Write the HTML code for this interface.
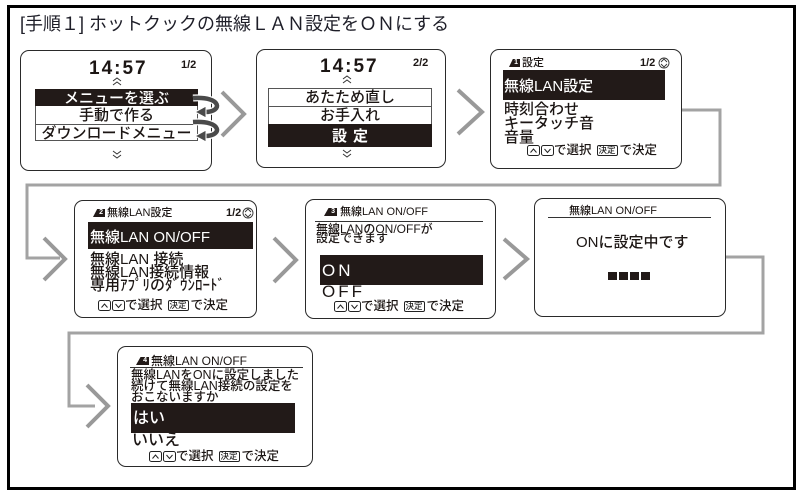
<!DOCTYPE html>
<html><head><meta charset="utf-8">
<style>
*{margin:0;padding:0;box-sizing:border-box}
body{width:807px;height:499px;background:#fff;position:relative;overflow:hidden;font-family:"Liberation Sans","Noto Sans CJK JP",sans-serif;color:#1c1614}
.a{position:absolute;white-space:nowrap;line-height:1}
.j{font-family:"Liberation Sans Narrow","Liberation Sans","Noto Sans CJK JP",sans-serif;font-weight:500}
.s{position:absolute;border:1.5px solid #2a2a2a;border-radius:9px;background:#fff}
.blk{position:absolute;background:#221a18}
.w{color:#fff}
.row{position:absolute;text-align:center;white-space:nowrap;font-size:15px;font-weight:500}
.ic{position:absolute;background:#221a18;clip-path:polygon(35% 0,100% 0,100% 100%,0 100%);color:#fff;font:bold 7px/8px "Liberation Sans",sans-serif;text-align:right;padding-right:2px}
.ft{position:absolute;white-space:nowrap;font-size:12.5px;line-height:12px;display:flex;align-items:center;font-weight:500}
.ft svg{display:block}
.kb{display:inline-block;border:1px solid #222;border-radius:2px;font-size:8.5px;line-height:9px;padding:0 1px;margin:0 2px 0 5px;color:#222}
.tm{position:absolute;font:bold 19px/1 "Liberation Sans",sans-serif;letter-spacing:2px;white-space:nowrap}
</style></head><body>

<div class="a" style="left:7px;top:5px;width:789px;height:485px;border:3px solid #000"></div>

<div class="a" style="left:20px;top:15px;font-size:18px;color:#1e1e28">[手順１] ホットクックの無線ＬＡＮ設定をＯＮにする</div>

<!-- Screen 1 -->
<div class="s" style="left:20px;top:50px;width:192px;height:121px"></div>
<div class="tm" style="left:89px;top:59px">14:57</div>
<div class="a" style="left:181px;top:60px;font:bold 11px/1 'Liberation Sans Narrow','Liberation Sans',sans-serif">1/2</div>
<div class="a" style="left:35px;top:89px;width:163px;height:52px;border:1px solid #555"></div>
<div class="blk" style="left:35px;top:89px;width:163px;height:17px"></div>
<div class="a" style="left:35px;top:124px;width:163px;height:1px;background:#555"></div>
<div class="row w" style="left:35px;top:90px;width:163px;height:17px;line-height:17px">メニューを選ぶ</div>
<div class="row" style="left:35px;top:107px;width:163px;height:18px;line-height:18px">手動で作る</div>
<div class="row" style="left:35px;top:125px;width:163px;height:17px;line-height:17px">ダウンロードメニュー</div>

<!-- Screen 2 -->
<div class="s" style="left:256px;top:49px;width:190px;height:119px"></div>
<div class="tm" style="left:320px;top:57px">14:57</div>
<div class="a" style="left:413px;top:58px;font:bold 11px/1 'Liberation Sans Narrow','Liberation Sans',sans-serif">2/2</div>
<div class="a" style="left:268px;top:88px;width:164px;height:59px;border:1px solid #555"></div>
<div class="a" style="left:268px;top:106px;width:164px;height:1px;background:#555"></div>
<div class="blk" style="left:268px;top:124px;width:164px;height:23px"></div>
<div class="row" style="left:268px;top:89px;width:164px;height:18px;line-height:18px">あたため直し</div>
<div class="row" style="left:268px;top:107px;width:164px;height:18px;line-height:18px">お手入れ</div>
<div class="row w" style="left:268px;top:125px;width:164px;height:23px;line-height:23px;letter-spacing:6px;font-weight:bold;text-indent:6px">設定</div>

<!-- Screen 3 -->
<div class="s" style="left:490px;top:49px;width:192px;height:120px"></div>
<div class="ic" style="left:509px;top:59px;width:11px;height:8px">1</div>
<div class="a j" style="left:522px;top:58px;font-size:11px">設定</div>
<div class="a" style="left:640px;top:58px;font:bold 11px/1 'Liberation Sans Narrow','Liberation Sans',sans-serif">1/2</div>
<div class="blk" style="left:503px;top:70px;width:162px;height:30px"></div>
<div class="a j w" style="left:504px;top:79px;font-size:15px">無線LAN設定</div>
<div class="a j" style="left:504px;top:102px;font-size:15px">時刻合わせ</div>
<div class="a j" style="left:504px;top:116px;font-size:15px">キータッチ音</div>
<div class="a j" style="left:504px;top:130px;font-size:15px">音量</div>
<div class="ft" style="left:527px;top:144px"><svg width="27" height="11"><rect x=".5" y=".5" width="12" height="10" rx="2" fill="none" stroke="#222"/><polyline points="3.5,7.5 6.5,4 9.5,7.5" fill="none" stroke="#222"/><rect x="14.5" y=".5" width="12" height="10" rx="2" fill="none" stroke="#222"/><polyline points="17.5,4 20.5,7.5 23.5,4" fill="none" stroke="#222"/></svg>で選択<span class="kb">決定</span>で決定</div>

<!-- Screen 4 -->
<div class="s" style="left:74px;top:200px;width:183px;height:118px"></div>
<div class="ic" style="left:93px;top:209px;width:12px;height:8px">2</div>
<div class="a j" style="left:107px;top:208px;font-size:11px">無線LAN設定</div>
<div class="a" style="left:226px;top:208px;font:bold 11px/1 'Liberation Sans Narrow','Liberation Sans',sans-serif">1/2</div>
<div class="blk" style="left:88px;top:222px;width:165px;height:27px"></div>
<div class="a j w" style="left:90px;top:230px;font-size:15px">無線LAN ON/OFF</div>
<div class="a j" style="left:90px;top:252px;font-size:15px">無線LAN 接続</div>
<div class="a j" style="left:90px;top:265px;font-size:15px">無線LAN接続情報</div>
<div class="a j" style="left:90px;top:278px;font-size:15px">専用ｱﾌﾟﾘのﾀﾞｳﾝﾛｰﾄﾞ</div>
<div class="ft" style="left:98px;top:299px"><svg width="27" height="11"><rect x=".5" y=".5" width="12" height="10" rx="2" fill="none" stroke="#222"/><polyline points="3.5,7.5 6.5,4 9.5,7.5" fill="none" stroke="#222"/><rect x="14.5" y=".5" width="12" height="10" rx="2" fill="none" stroke="#222"/><polyline points="17.5,4 20.5,7.5 23.5,4" fill="none" stroke="#222"/></svg>で選択<span class="kb">決定</span>で決定</div>

<!-- Screen 5 -->
<div class="s" style="left:305px;top:199px;width:191px;height:120px"></div>
<div class="ic" style="left:324px;top:208px;width:13px;height:8px">3</div>
<div class="a j" style="left:340px;top:207px;font-size:11px">無線LAN ON/OFF</div>
<div class="a" style="left:315px;top:221px;width:168px;height:1px;background:#333"></div>
<div class="a j" style="left:316px;top:223px;font-size:12px">無線LANのON/OFFが</div>
<div class="a j" style="left:316px;top:232px;font-size:12px">設定できます</div>
<div class="blk" style="left:320px;top:255px;width:163px;height:30px"></div>
<div class="a w" style="left:322px;top:262px;font-size:17px;letter-spacing:3px">ON</div>
<div class="a" style="left:322px;top:283px;font-size:17px;letter-spacing:3px">OFF</div>
<div class="ft" style="left:334px;top:300px"><svg width="27" height="11"><rect x=".5" y=".5" width="12" height="10" rx="2" fill="none" stroke="#222"/><polyline points="3.5,7.5 6.5,4 9.5,7.5" fill="none" stroke="#222"/><rect x="14.5" y=".5" width="12" height="10" rx="2" fill="none" stroke="#222"/><polyline points="17.5,4 20.5,7.5 23.5,4" fill="none" stroke="#222"/></svg>で選択<span class="kb">決定</span>で決定</div>

<!-- Screen 6 -->
<div class="s" style="left:534px;top:198px;width:192px;height:119px"></div>
<div class="a j" style="left:569px;top:206px;font-size:11px">無線LAN ON/OFF</div>
<div class="a" style="left:548px;top:217px;width:163px;height:1px;background:#333"></div>
<div class="a j" style="left:576px;top:235px;font-size:15px">ONに設定中です</div>
<div class="blk" style="left:608px;top:272px;width:9px;height:8px"></div>
<div class="blk" style="left:619px;top:272px;width:9px;height:8px"></div>
<div class="blk" style="left:630px;top:272px;width:9px;height:8px"></div>
<div class="blk" style="left:641px;top:272px;width:9px;height:8px"></div>

<!-- Screen 7 -->
<div class="s" style="left:117px;top:346px;width:196px;height:121px"></div>
<div class="ic" style="left:136px;top:357px;width:13px;height:8px">4</div>
<div class="a j" style="left:151px;top:355px;font-size:12px">無線LAN ON/OFF</div>
<div class="a" style="left:130px;top:367px;width:173px;height:1px;background:#333"></div>
<div class="a j" style="left:131px;top:369px;font-size:12.5px">無線LANをONに設定しました</div>
<div class="a j" style="left:131px;top:380px;font-size:12.5px">続けて無線LAN接続の設定を</div>
<div class="a j" style="left:131px;top:391px;font-size:12.5px">おこないますか</div>
<div class="blk" style="left:131px;top:403px;width:164px;height:30px"></div>
<div class="a w" style="left:133px;top:411px;font-size:16px;font-weight:500">はい</div>
<div class="a" style="left:132px;top:433px;font-size:16px;font-weight:500">いいえ</div>
<div class="ft" style="left:149px;top:450px"><svg width="27" height="11"><rect x=".5" y=".5" width="12" height="10" rx="2" fill="none" stroke="#222"/><polyline points="3.5,7.5 6.5,4 9.5,7.5" fill="none" stroke="#222"/><rect x="14.5" y=".5" width="12" height="10" rx="2" fill="none" stroke="#222"/><polyline points="17.5,4 20.5,7.5 23.5,4" fill="none" stroke="#222"/></svg>で選択<span class="kb">決定</span>で決定</div>

<svg class="a" style="left:0;top:0" width="807" height="499" viewBox="0 0 807 499">
  <g fill="none" stroke="#a3a3a3" stroke-width="3">
    <polyline points="682,110 720,110 720,185 27,185 27,258 60,258"/>
    <polyline points="726,257 763,257 763,333 69,333 69,406 95,406"/>
  </g>
  <g fill="none" stroke="#999" stroke-width="4" stroke-linejoin="miter">
    <polyline points="222,92 244,114 222,136"/>
    <polyline points="458,90 482,112 458,134"/>
    <polyline points="44,238 65,259 44,280"/>
    <polyline points="274,238 296,260 274,282"/>
    <polyline points="504,239 527,259 504,279"/>
    <polyline points="87,385 108,406 87,427"/>
  </g>
  <g fill="none" stroke="#333" stroke-width="1">
    <polyline points="113,81 117,78 121,81"/><polyline points="113,85 117,82 121,85"/>
    <polyline points="113,151 117,154 121,151"/><polyline points="113,155 117,158 121,155"/>
    <polyline points="343,79 347,76 351,79"/><polyline points="343,83 347,80 351,83"/>
    <polyline points="343,150 347,153 351,150"/><polyline points="343,154 347,157 351,154"/>
  </g>
  <g fill="none" stroke="#333" stroke-width="0.9">
    <circle cx="664" cy="63" r="5"/><polyline points="661,62 664,59 667,62"/><polyline points="661,64 664,67 667,64"/>
    <circle cx="248" cy="213" r="5"/><polyline points="245,212 248,209 251,212"/><polyline points="245,214 248,217 251,214"/>
  </g>
  <g fill="none" stroke-linecap="butt">
    <path d="M193 98 C 222 96, 223 112, 205 112" stroke="#fff" stroke-width="7"/>
    <path d="M193 98 C 222 96, 223 112, 205 112" stroke="#4a4a4a" stroke-width="4.5"/>
    <path d="M193 122 C 222 120, 223 136, 205 136" stroke="#fff" stroke-width="7"/>
    <path d="M193 122 C 222 120, 223 136, 205 136" stroke="#4a4a4a" stroke-width="4.5"/>
  </g>
  <polygon points="195,112 206,106 206,118" fill="#4a4a4a" stroke="#fff" stroke-width="1"/>
  <polygon points="195,136 206,130 206,142" fill="#4a4a4a" stroke="#fff" stroke-width="1"/>
</svg>
</body></html>
